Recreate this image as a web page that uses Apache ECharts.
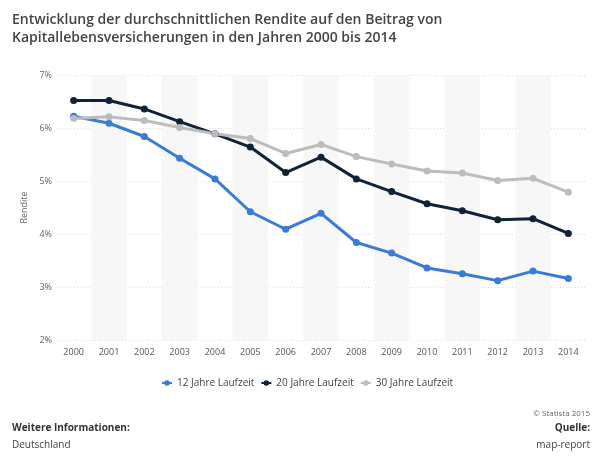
<!DOCTYPE html>
<html><head><meta charset="utf-8">
<script src="https://cdn.jsdelivr.net/npm/echarts@6/dist/echarts.min.js"></script>
<style>html,body{margin:0;padding:0;background:#fff}#c{width:600px;height:460px}</style>
</head><body><div id="c"></div>
<script>
const years = ['2000','2001','2002','2003','2004','2005','2006','2007','2008','2009','2010','2011','2012','2013','2014'];
const yTicks = [2,3,4,5,6,7];
const s12 = [6.22,6.09,5.84,5.43,5.04,4.42,4.09,4.39,3.84,3.64,3.36,3.25,3.12,3.30,3.16];
const s20 = [6.52,6.52,6.36,6.12,5.89,5.64,5.16,5.45,5.04,4.80,4.57,4.44,4.27,4.29,4.01];
const s30 = [6.18,6.21,6.14,6.01,5.89,5.80,5.52,5.69,5.46,5.32,5.19,5.15,5.01,5.05,4.79];
const names = ['12 Jahre Laufzeit','20 Jahre Laufzeit','30 Jahre Laufzeit'];
const colors = ['#3a7bd5','#0f2236','#bcbcbc'];
const F = '"Open Sans", sans-serif';
const chart = echarts.init(document.getElementById('c'), null, {renderer:'canvas'});
function ser(name, data, color){
  return {name, type:'line', data, color, symbol:'circle', symbolSize:7,
    lineStyle:{width:3,color}, itemStyle:{color}, z: 3};
}
chart.setOption({
  animation:false,
  textStyle:{fontFamily:F},
  title:[
    {text:'Entwicklung der durchschnittlichen Rendite auf den Beitrag von\nKapitallebensversicherungen in den Jahren 2000 bis 2014',
     left:7, top:6, textStyle:{fontFamily:F, fontSize:14, fontWeight:600, color:'#444', lineHeight:18}},
    {text:'Weitere Informationen:', left:7, top:416, textStyle:{fontFamily:F,fontSize:10,fontWeight:'bold',color:'#333',lineHeight:14}},
    {text:'Deutschland', left:7, top:433, textStyle:{fontFamily:F,fontSize:10,fontWeight:'normal',color:'#444',lineHeight:14}},
    {text:'© Statista 2015', right:5, top:404, textStyle:{fontFamily:F,fontSize:8,fontWeight:'normal',color:'#666',lineHeight:10}},
    {text:'Quelle:', right:5, top:416, textStyle:{fontFamily:F,fontSize:10,fontWeight:'bold',color:'#333',lineHeight:14}},
    {text:'map-report', right:5, top:433, textStyle:{fontFamily:F,fontSize:10,fontWeight:'normal',color:'#444',lineHeight:14}}
  ],
  legend:{data:names, top:373, left:156, itemWidth:10, itemHeight:7, itemGap:6,
    textStyle:{fontFamily:F,fontSize:10,color:'#444'}},
  grid:{left:56, right:14, top:75, bottom:120},
  xAxis:{type:'category', data:years, boundaryGap:true,
    axisLine:{show:false}, axisTick:{show:false},
    axisLabel:{fontFamily:F,fontSize:9,color:'#555',margin:8},
    splitLine:{show:false},
    splitArea:{show:true, areaStyle:{color:['rgba(255,255,255,0)','#f7f7f8']}}},
  yAxis:{type:'value', min:yTicks[0], max:yTicks[yTicks.length-1], interval:1,
    name:'Rendite', nameLocation:'middle', nameGap:22, nameRotate:90,
    nameTextStyle:{fontFamily:F,fontSize:9,color:'#666'},
    axisLine:{show:false}, axisTick:{show:false},
    axisLabel:{fontFamily:F,fontSize:9,color:'#666',formatter:v=>v+'%',margin:4},
    splitLine:{lineStyle:{color:'#dddddd',type:[1,2],width:1}}},
  series:[ser(names[0],s12,colors[0]), ser(names[1],s20,colors[1]), ser(names[2],s30,colors[2])]
});
</script></body></html>
